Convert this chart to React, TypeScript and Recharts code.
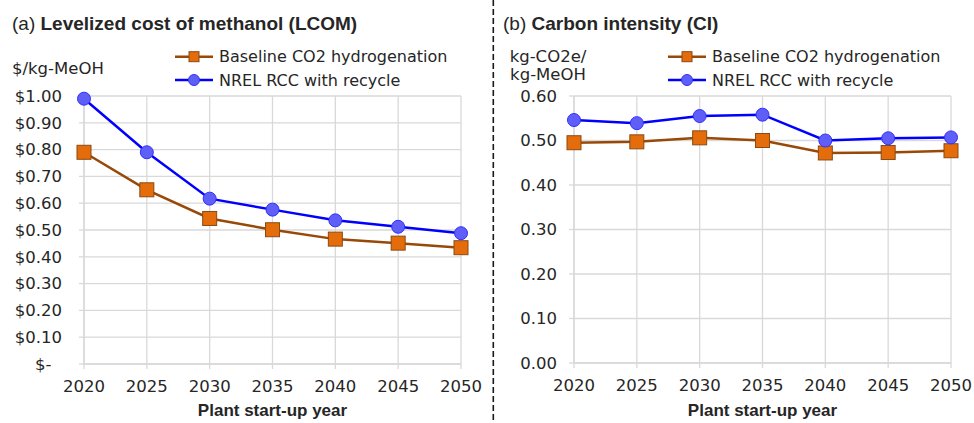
import { LineChart, Line, XAxis, YAxis, CartesianGrid, Legend } from "recharts"

const years = [2020, 2025, 2030, 2035, 2040, 2045, 2050]
const lcomBaseline = [0.79, 0.65, 0.543, 0.501, 0.466, 0.451, 0.434]
const lcomNrel = [0.99, 0.79, 0.617, 0.576, 0.536, 0.512, 0.488]
const ciBaseline = [0.495, 0.497, 0.506, 0.5, 0.472, 0.473, 0.477]
const ciNrel = [0.546, 0.539, 0.555, 0.558, 0.5, 0.505, 0.507]
const lcomTicks = [0, 0.1, 0.2, 0.3, 0.4, 0.5, 0.6, 0.7, 0.8, 0.9, 1.0]
const ciTicks = [0, 0.1, 0.2, 0.3, 0.4, 0.5, 0.6]
const seriesNames = ["Baseline CO2 hydrogenation", "NREL RCC with recycle"]

const lcomData = years.map((y, i) => ({ year: y, base: lcomBaseline[i], nrel: lcomNrel[i] }))
const ciData = years.map((y, i) => ({ year: y, base: ciBaseline[i], nrel: ciNrel[i] }))

const GRID = "#d9d9d9"
const TEXT = "#262626"
const BROWN = "#984807"
const ORANGE = "#e46c0a"
const BLUE = "#0000ff"
const BLUE_FILL = "#5f5ff7"
const REG = "'DejaVu Sans', sans-serif"
const BOLD = "'Liberation Sans', Arial, sans-serif"

function SquareDot(props: any) {
  const { cx, cy, index } = props
  return (
    <rect
      key={`sq-${index}`}
      x={cx - 7}
      y={cy - 7}
      width={14}
      height={14}
      fill={ORANGE}
      stroke="#8a4a14"
      strokeWidth={1}
    />
  )
}

function LegendBox() {
  return (
    <svg width={300} height={50} style={{ display: "block" }}>
      <line x1={0} x2={38} y1={11.7} y2={11.7} stroke={BROWN} strokeWidth={2.5} />
      <rect x={14} y={6.7} width={10} height={10} fill={ORANGE} stroke="#8a4a14" strokeWidth={1} />
      <text x={44} y={17.3} fontFamily={REG} fontSize={16} fill={TEXT}>
        {seriesNames[0]}
      </text>
      <line x1={0} x2={38} y1={35} y2={35} stroke={BLUE} strokeWidth={2.5} />
      <circle cx={19} cy={35} r={5.5} fill={BLUE_FILL} stroke="#3030ff" strokeWidth={1} />
      <text x={44} y={40.7} fontFamily={REG} fontSize={16} fill={TEXT}>
        {seriesNames[1]}
      </text>
    </svg>
  )
}

const fmtDollar = (v: number) => (v === 0 ? "$-\u00a0\u00a0" : `$${v.toFixed(2)}`)
const fmtPlain = (v: number) => v.toFixed(2)

interface PanelProps {
  data: { year: number; base: number; nrel: number }[]
  width: number
  rightMargin: number
  axisWidth: number
  xHeight: number
  domainMax: number
  ticks: number[]
  fmt: (v: number) => string
  tickMargin: number
}

function Panel({ data, width, rightMargin, axisWidth, xHeight, domainMax, ticks, fmt, tickMargin }: PanelProps) {
  return (
    <LineChart
      width={width}
      height={423}
      data={data}
      margin={{ top: 96, right: rightMargin, left: 0, bottom: 0 }}
    >
      <CartesianGrid stroke={GRID} strokeWidth={1.3} />
      <XAxis
        dataKey="year"
        type="number"
        domain={[2020, 2050]}
        ticks={years}
        height={xHeight}
        tickSize={5}
        tickMargin={11}
        axisLine={{ stroke: GRID, strokeWidth: 1.3 }}
        tickLine={{ stroke: GRID, strokeWidth: 1.3 }}
        tick={{ fill: TEXT, fontSize: 16.5, fontFamily: REG }}
        interval={0}
      />
      <YAxis
        type="number"
        domain={[0, domainMax]}
        ticks={ticks}
        width={axisWidth}
        tickSize={5}
        tickMargin={tickMargin}
        tickFormatter={fmt}
        axisLine={{ stroke: GRID, strokeWidth: 1.3 }}
        tickLine={{ stroke: GRID, strokeWidth: 1.3 }}
        tick={{ fill: TEXT, fontSize: 16.5, fontFamily: REG }}
        interval={0}
      />
      {/* vertical + centered + middle keeps the legend from taking plot space */}
      <Legend
        layout="vertical"
        align="center"
        verticalAlign="middle"
        content={() => <LegendBox />}
        wrapperStyle={{ left: 175, top: 45, width: 300, height: 50 }}
      />
      <Line
        dataKey="base"
        stroke={BROWN}
        strokeWidth={2.5}
        dot={SquareDot}
        isAnimationActive={false}
      />
      <Line
        dataKey="nrel"
        stroke={BLUE}
        strokeWidth={2.5}
        dot={{ r: 6.5, fill: BLUE_FILL, stroke: "#3030ff", strokeWidth: 1 }}
        isAnimationActive={false}
      />
    </LineChart>
  )
}

const abs = (s: React.CSSProperties): React.CSSProperties => ({ position: "absolute", whiteSpace: "nowrap", ...s })

export default function App() {
  return (
    <div style={abs({ left: 0, top: 0, width: 974, height: 423, background: "#fff", overflow: "hidden", color: TEXT })}>
      <div style={abs({ left: 0, top: 0, width: 493, height: 423 })}>
        <Panel
          data={lcomData}
          width={493}
          rightMargin={32}
          axisWidth={84}
          xHeight={59}
          domainMax={1}
          ticks={lcomTicks}
          fmt={fmtDollar}
          tickMargin={17}
        />
      </div>
      <div style={abs({ left: 493, top: 0, width: 481, height: 423 })}>
        <Panel
          data={ciData}
          width={481}
          rightMargin={23}
          axisWidth={81}
          xHeight={60}
          domainMax={0.6}
          ticks={ciTicks}
          fmt={fmtPlain}
          tickMargin={12}
        />
      </div>

      {/* titles */}
      <div style={abs({ left: 12, top: 14, fontSize: 19, lineHeight: "19px", fontFamily: BOLD })}>
        <span style={{ fontWeight: 400 }}>(a) </span>
        <b>Levelized cost of methanol (LCOM)</b>
      </div>
      <div style={abs({ left: 503, top: 14, fontSize: 19, lineHeight: "19px", fontFamily: BOLD })}>
        <span style={{ fontWeight: 400 }}>(b) </span>
        <b>Carbon intensity (CI)</b>
      </div>

      {/* unit labels */}
      <div style={abs({ left: 12, top: 60.5, fontSize: 16.5, lineHeight: 1, fontFamily: REG })}>$/kg-MeOH</div>
      <div style={abs({ left: 498, top: 48, width: 100, textAlign: "center", fontSize: 16.5, lineHeight: "18px", fontFamily: REG })}>
        kg-CO2e/
        <br />
        kg-MeOH
      </div>

      {/* x axis titles */}
      <div style={abs({ left: 84, width: 377, top: 402, textAlign: "center", fontSize: 17, lineHeight: "17px", fontFamily: BOLD, fontWeight: 700 })}>
        Plant start-up year
      </div>
      <div style={abs({ left: 574, width: 377, top: 402, textAlign: "center", fontSize: 17, lineHeight: "17px", fontFamily: BOLD, fontWeight: 700 })}>
        Plant start-up year
      </div>

      {/* divider */}
      <svg style={abs({ left: 490, top: 0 })} width={6} height={423}>
        <line x1={3.3} x2={3.3} y1={0} y2={423} stroke="#1a1a1a" strokeWidth={1.6} strokeDasharray="6 3" />
      </svg>
    </div>
  )
}
